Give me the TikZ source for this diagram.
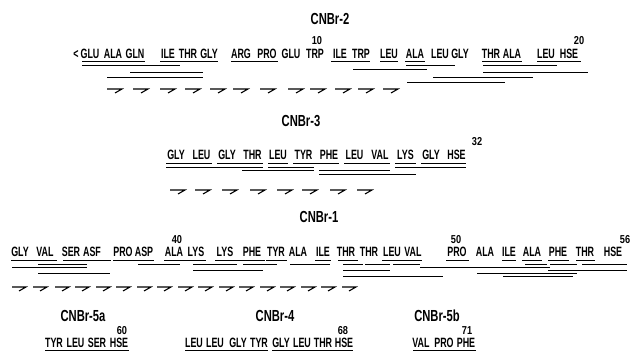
\documentclass[tikz,border=0pt]{standalone}
\usepackage{fontspec}
\newfontfamily\seqf[FakeStretch=0.66]{Liberation Sans}
\newfontfamily\numf[FakeStretch=0.8]{Liberation Sans}
\newfontfamily\ttlf[FakeStretch=0.7]{Liberation Sans}
\begin{document}
\begin{tikzpicture}[x=1pt,y=-1pt,
  res/.style={font=\seqf\bfseries\fontsize{13.5}{14}\selectfont, inner sep=0pt, anchor=base},
  num/.style={font=\numf\bfseries\fontsize{11.5}{12}\selectfont, inner sep=0pt, anchor=base},
  ttl/.style={font=\ttlf\bfseries\fontsize{16}{17}\selectfont, inner sep=0pt, anchor=base},
  ul/.style={line width=1pt},
  harp/.style={line width=1.1pt, line join=miter}]
\fill[white] (0,0) rectangle (633,352);
\useasboundingbox (0,0) rectangle (633,352);

% ---------------- CNBr-2 ----------------
\node[ttl] (t2) at (330,25) {CNBr-2};
\node[res] (lt) at (76,58.5) {<};
\foreach \n/\x/\t in {1/90/GLU,2/113/ALA,3/135/GLN,4/168/ILE,5/188/THR,6/209/GLY,7/241/ARG,8/267/PRO,9/291/GLU,10/315/TRP,11/340/ILE,12/361/TRP,13/389/LEU,14/415/ALA,15/440/LEU,16/460/GLY,17/491/THR,18/512/ALA,19/546/LEU,20/569/HSE}
  \node[res] (a\n) at (\x,58.5) {\t};
\node[num] (n10) at (317,45) {10};
\node[num] (n20) at (579,45) {20};
\foreach \y/\a/\b in {62/82/145,62/160/218,62/231/278,62/331/370,62/380/398,62/405/425,62/482/522,62/537/581,
  66/82/180,66/406/455,66/483/557,
  70/353/427,
  73/130/203,73/483/588,
  78/107/203,78/433/533,
  83/407/505}
  \draw[ul] (\a,\y) -- (\b,\y);
\foreach \x in {107,133,160,185,210,233,260,288,310,335,358,383}
  \draw[harp] (\x,89) -- ++(15,0) -- ++(-7,4);

% ---------------- CNBr-3 ----------------
\node[ttl] (t3) at (301,127) {CNBr-3};
\foreach \n/\t [count=\i from 0] in {21/GLY,22/LEU,23/GLY,24/THR,25/LEU,26/TYR,27/PHE,28/LEU,29/VAL,30/LYS,31/GLY,32/HSE}
  \node[res] (a\n) at ({176+25.5*\i},160) {\t};
\node[num] (n32) at (477,146) {32};
\foreach \y/\a/\b in {164/166/212,164/217/263,164/268/288,164/293/339,164/344/390,164/395/416,164/421/466,
  167.5/166/263,167.5/268/314,167.5/395/466,
  171/242/314,171/319/390,
  175/319/416}
  \draw[ul] (\a,\y) -- (\b,\y);
\foreach \x in {170,195,222,250,277,302,330,357}
  \draw[harp] (\x,190) -- ++(15,0) -- ++(-7,4);

% ---------------- CNBr-1 ----------------
\node[ttl] (t1) at (319,223) {CNBr-1};
\foreach \n/\x/\t in {33/20/GLY,34/45/VAL,35/71/SER,36/92/ASF,37/123/PRO,38/144/ASP,39/174/ALA,40/196/LYS,41/225/LYS,42/252/PHE,43/276/TYR,44/298/ALA,45/323/ILE,46/346/THR,47/369/THR,48/392/LEU,49/413/VAL,50/457/PRO,51/485/ALA,52/509/ILE,53/532/ALA,54/558/PHE,55/585/THR,56/613/HSE}
  \node[res] (a\n) at (\x,257) {\t};
\node[num] (n40) at (177,244) {40};
\node[num] (n50) at (456,244) {50};
\node[num] (n56) at (625,244) {56};
\foreach \y/\a/\b in {261/11/57,261/63/111,261/113/154,261/164/206,261/215/265,261/266/287,261/315/331,261/338/358,261/382/402,261/402/422,261/446/469,261/502/516,261/522/542,261/548/569,261/576/595,
  265/38/87,265/138/180,265/193/237,265/243/277,265/290/330,265/343/363,265/365/390,265/393/420,265/525/547,265/550/577,265/582/627,
  268/12/87,268/420/550,
  271/193/263,271/343/390,271/548/627,
  274/38/110,274/477/577,
  277/343/443,277/503/573}
  \draw[ul] (\a,\y) -- (\b,\y);
\foreach \x in {12,33,55,75,96,116,137,157,178,198,219,239,260,280,301,321,342}
  \draw[harp] (\x,287) -- ++(14,0) -- ++(-7,4);

% ---------------- bottom row ----------------
\node[ttl] (t5a) at (83,322) {CNBr-5a};
\node[num] (n60) at (122,334.5) {60};
\foreach \n/\x/\t in {57/54/TYR,58/75.5/LEU,59/97/SER,60/119/HSE}
  \node[res] (a\n) at (\x,348) {\t};
\draw[ul] (45,351) -- (129,351);

\node[ttl] (t4) at (275,322) {CNBr-4};
\node[num] (n68) at (343,334.5) {68};
\foreach \n/\x/\t in {61/194/LEU,62/215/LEU,63/238/GLY,64/259/TYR,65/281/GLY,66/302/LEU,67/323/THR,68/344/HSE}
  \node[res] (a\n) at (\x,348) {\t};
\draw[ul] (185,351) -- (268,351);
\draw[ul] (272,351) -- (353,351);

\node[ttl] (t5b) at (437,322) {CNBr-5b};
\node[num] (n71) at (467,334.5) {71};
\foreach \n/\x/\t in {69/421/VAL,70/444/PRO,71/466/PHE}
  \node[res] (a\n) at (\x,348) {\t};
\draw[ul] (413,351) -- (476,351);
\end{tikzpicture}
\end{document}
